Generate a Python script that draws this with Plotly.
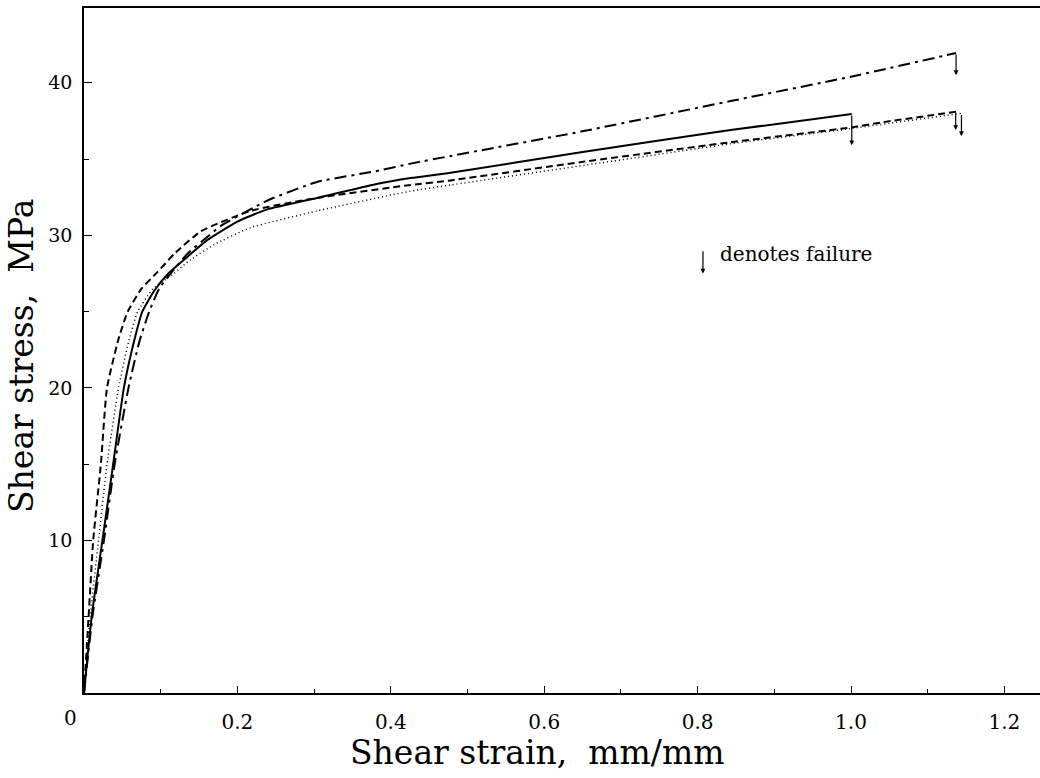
import plotly.graph_objects as go

# ---- data ----
solid_x = [0, 0.010, 0.024, 0.038, 0.052, 0.065, 0.076, 0.092, 0.110, 0.135, 0.161, 0.200, 0.239, 0.304, 0.380, 0.426, 0.478, 0.648, 0.843, 1.001]
solid_y = [0, 5, 10, 15, 20, 23, 25, 26.4, 27.5, 28.6, 29.7, 30.9, 31.7, 32.45, 33.35, 33.75, 34.1, 35.45, 36.9, 37.95]

dashed_x = [0, 0.006, 0.012, 0.022, 0.030, 0.045, 0.057, 0.075, 0.096, 0.118, 0.152, 0.217, 0.304, 0.426, 0.478, 0.648, 0.843, 1.000, 1.040, 1.137]
dashed_y = [0, 5, 10, 15, 20, 23.2, 25, 26.5, 27.6, 28.8, 30.25, 31.6, 32.45, 33.3, 33.6, 34.8, 36.1, 37.07, 37.4, 38.1]

dotted_x = [0, 0.008, 0.019, 0.030, 0.045, 0.058, 0.070, 0.090, 0.117, 0.139, 0.170, 0.217, 0.304, 0.426, 0.478, 0.674, 0.843, 1.000, 1.144]
dotted_y = [0, 5, 10, 15, 20, 23, 25, 26.5, 27.5, 28.4, 29.4, 30.5, 31.6, 32.9, 33.3, 34.75, 36.0, 37.0, 38.0]

dashdot_x = [0, 0.011, 0.026, 0.040, 0.058, 0.072, 0.085, 0.098, 0.113, 0.135, 0.161, 0.178, 0.240, 0.304, 0.380, 0.426, 0.478, 0.648, 0.843, 1.000, 1.137]
dashdot_y = [0, 5, 10, 15, 20, 23, 25, 26.5, 27.5, 28.8, 29.9, 30.6, 32.3, 33.5, 34.2, 34.7, 35.2, 36.8, 38.8, 40.4, 41.95]

# failure markers: (strain, stress at failure, stress at arrow tip)
fail_x = [1.001, 1.137, 1.1365, 1.144]
fail_top = [37.95, 41.95, 38.1, 38.0]
fail_tip = [35.9, 40.5, 36.9, 36.5]

x_tick_vals = [0, 0.2, 0.4, 0.6, 0.8, 1.0, 1.2]
x_tick_text = ["0", "0.2", "0.4", "0.6", "0.8", "1.0", "1.2"]
y_tick_vals = [10, 20, 30, 40]
y_tick_text = ["10", "20", "30", "40"]

legend_text = "denotes failure"
x_title = "Shear strain,  mm/mm"
y_title = "Shear stress,  MPa"

FONT = "DejaVu Serif"
W, H = 1040, 778
ML, MR, MT, MB = 84, 0, 8, 85
plot_w = W - ML - MR
plot_h = H - MT - MB

fig = go.Figure()
styles = [
    (solid_x, solid_y, "solid", 2.0),
    (dashed_x, dashed_y, "7px,4px", 2.0),
    (dotted_x, dotted_y, "1px,3px", 1.5),
    (dashdot_x, dashdot_y, "12px,5px,3px,5px", 2.0),
]
for xs, ys, dash, w in styles:
    fig.add_trace(go.Scatter(x=xs, y=ys, mode="lines",
                             line=dict(color="black", width=w, dash=dash, shape="spline", smoothing=0.5),
                             showlegend=False, hoverinfo="skip"))

anns = []
for fx, ft, fb in zip(fail_x, fail_top, fail_tip):
    anns.append(dict(x=fx, y=fb, ax=fx, ay=ft, xref="x", yref="y", axref="x", ayref="y",
                     showarrow=True, arrowhead=2, arrowsize=0.8, arrowwidth=1.2, arrowcolor="black", text=""))

# legend arrow + text
anns.append(dict(x=0.807, y=27.5, ax=0.807, ay=29.05, xref="x", yref="y", axref="x", ayref="y",
                 showarrow=True, arrowhead=2, arrowsize=0.8, arrowwidth=1.2, arrowcolor="black", text=""))
anns.append(dict(x=0.826, y=28.8, xref="x", yref="y", text=legend_text, showarrow=False,
                 xanchor="left", yanchor="middle", font=dict(family=FONT, size=20, color="black")))

# "0" tick label, set left of the origin as in the reference
anns.append(dict(x=x_tick_vals[0], y=0, xref="x", yref="y", text=x_tick_text[0], showarrow=False,
                 xanchor="center", yanchor="top", xshift=-14, yshift=-11,
                 font=dict(family=FONT, size=20, color="black")))

# axis titles (positions in pixels -> paper coordinates)
anns.append(dict(x=(537 - ML) / plot_w, y=(H - MB - 752) / plot_h, xref="paper", yref="paper",
                 text=x_title, showarrow=False, xanchor="center", yanchor="middle",
                 font=dict(family=FONT, size=33, color="black")))
anns.append(dict(x=(22 - ML) / plot_w, y=(H - MB - 356) / plot_h, xref="paper", yref="paper",
                 text=y_title, showarrow=False, textangle=-90, xanchor="center", yanchor="middle",
                 font=dict(family=FONT, size=33, color="black")))

fig.update_layout(
    width=W, height=H,
    margin=dict(l=ML, r=MR, t=MT, b=MB),
    paper_bgcolor="white", plot_bgcolor="white",
    annotations=anns,
    showlegend=False,
)

fig.update_xaxes(range=[0, plot_w / 767], showline=True, linecolor="black", linewidth=1.5,
                 mirror=True, ticks="inside", ticklen=7, tickwidth=1.2, tickcolor="black",
                 tickvals=x_tick_vals[1:], ticktext=x_tick_text[1:],
                 minor=dict(dtick=0.1, tick0=0, ticks="inside", ticklen=4, tickwidth=1, tickcolor="black"),
                 showgrid=False, zeroline=False, ticklabelstandoff=10,
                 tickfont=dict(family=FONT, size=20, color="black"))
fig.update_yaxes(range=[0, 44.9], showline=True, linecolor="black", linewidth=1.5,
                 ticks="inside", ticklen=8, tickwidth=1.2, tickcolor="black",
                 tickvals=y_tick_vals, ticktext=y_tick_text,
                 minor=dict(dtick=5, tick0=0, ticks="inside", ticklen=5, tickwidth=1, tickcolor="black"),
                 showgrid=False, zeroline=False, ticklabelstandoff=6,
                 tickfont=dict(family=FONT, size=19, color="black"))

fig.write_html("out.html")
